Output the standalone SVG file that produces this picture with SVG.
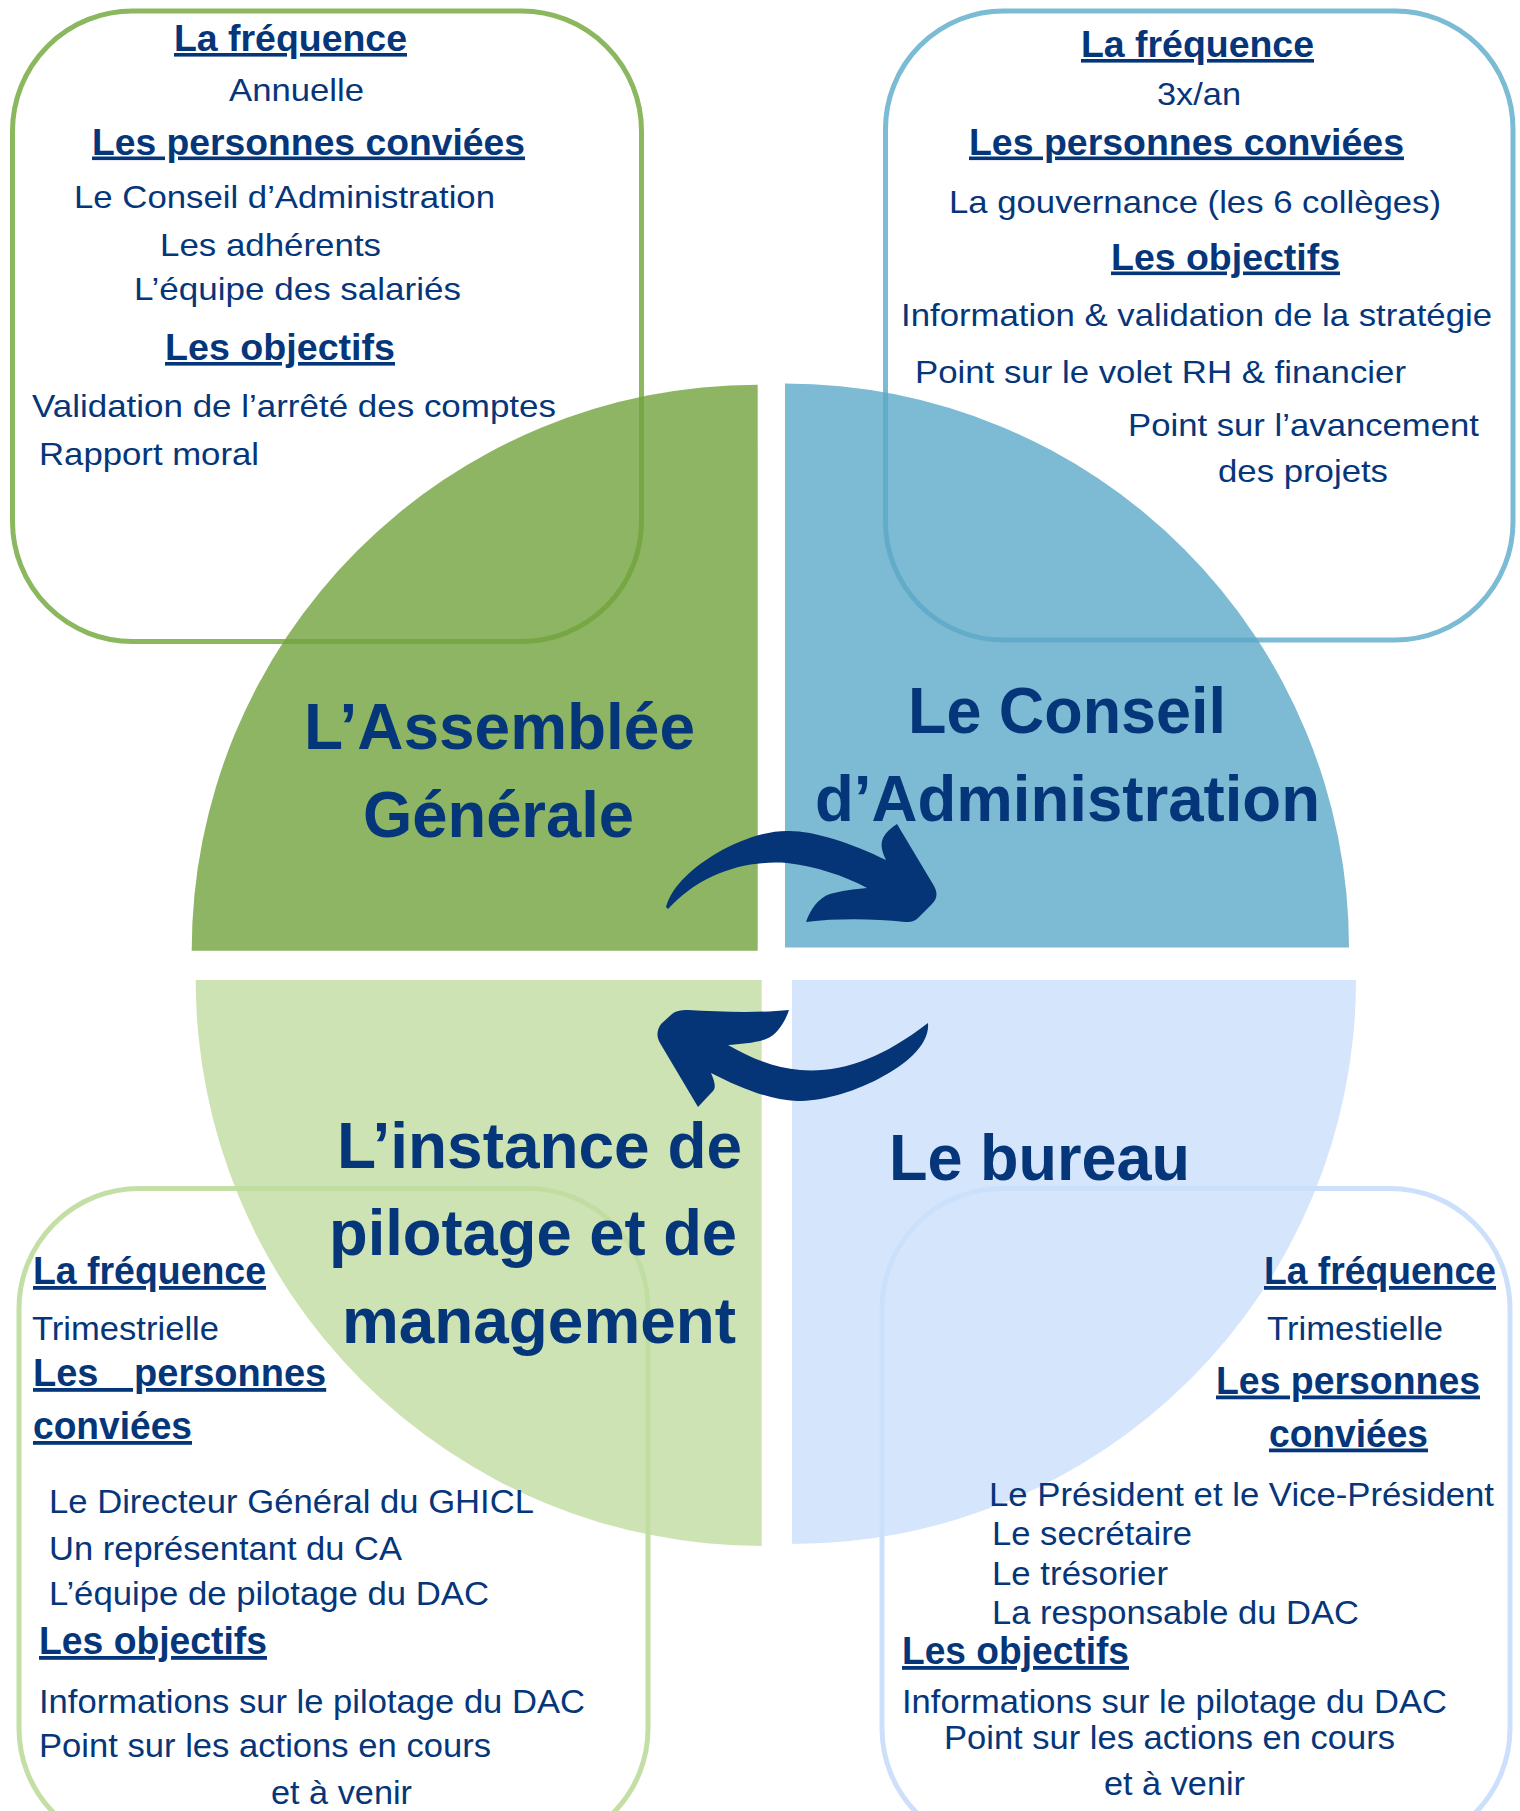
<svg xmlns="http://www.w3.org/2000/svg" width="1520" height="1811" viewBox="0 0 1520 1811">
<style>
text{font-family:"Liberation Sans",Arial,sans-serif;fill:#06367A}
.t{font-size:32px}
.tb{font-size:32.5px}
.h{font-size:36px;font-weight:bold;text-decoration:underline}
.hb{font-size:38px;font-weight:bold;text-decoration:underline}
.big{font-size:64px;font-weight:bold}
.box{fill:none;stroke-width:5}
.q{fill-opacity:0.8}
.arrow{fill:#053576}
</style>
<rect width="1520" height="1811" fill="#ffffff"/>

<g id="assemblee-generale">
<rect class="box" x="12.5" y="11" width="629" height="630.5" rx="120" stroke="#8BB85E"/>
<path class="q" fill="#70A23C" d="M757.7,950.7 L757.7,384.7 A566,566 0 0 0 191.7,950.7 Z"/>
<text class="big" x="304" y="749" textLength="391" lengthAdjust="spacingAndGlyphs">L’Assemblée</text>
<text class="big" x="363" y="837" textLength="271" lengthAdjust="spacingAndGlyphs">Générale</text>
<text class="h" x="174" y="51" textLength="233" lengthAdjust="spacingAndGlyphs">La fréquence</text>
<text class="t" x="229" y="101" textLength="135" lengthAdjust="spacingAndGlyphs">Annuelle</text>
<text class="h" x="92" y="154.5" textLength="433" lengthAdjust="spacingAndGlyphs">Les personnes conviées</text>
<text class="t" x="74" y="208" textLength="421" lengthAdjust="spacingAndGlyphs">Le Conseil d’Administration</text>
<text class="t" x="160" y="255.5" textLength="221" lengthAdjust="spacingAndGlyphs">Les adhérents</text>
<text class="t" x="134" y="300" textLength="327" lengthAdjust="spacingAndGlyphs">L’équipe des salariés</text>
<text class="h" x="165" y="360" textLength="230" lengthAdjust="spacingAndGlyphs">Les objectifs</text>
<text class="t" x="32" y="416.5" textLength="524" lengthAdjust="spacingAndGlyphs">Validation de l’arrêté des comptes</text>
<text class="t" x="39" y="465" textLength="220" lengthAdjust="spacingAndGlyphs">Rapport moral</text>
</g>

<g id="conseil-administration">
<rect class="box" x="885.5" y="11" width="627.5" height="629" rx="118" stroke="#7BBBD3"/>
<path class="q" fill="#5DA9C8" d="M785,947.5 L785,383.5 A564,564 0 0 1 1349,947.5 Z"/>
<text class="big" x="908" y="733" textLength="318" lengthAdjust="spacingAndGlyphs">Le Conseil</text>
<text class="big" x="815" y="820.5" textLength="505" lengthAdjust="spacingAndGlyphs">d’Administration</text>
<text class="h" x="1081" y="57" textLength="233" lengthAdjust="spacingAndGlyphs">La fréquence</text>
<text class="t" x="1157" y="105" textLength="84" lengthAdjust="spacingAndGlyphs">3x/an</text>
<text class="h" x="969" y="154.5" textLength="435" lengthAdjust="spacingAndGlyphs">Les personnes conviées</text>
<text class="t" x="949" y="212.5" textLength="492" lengthAdjust="spacingAndGlyphs">La gouvernance (les 6 collèges)</text>
<text class="h" x="1111" y="269.5" textLength="229" lengthAdjust="spacingAndGlyphs">Les objectifs</text>
<text class="t" x="901" y="325.5" textLength="591" lengthAdjust="spacingAndGlyphs">Information &amp; validation de la stratégie</text>
<text class="t" x="915" y="383" textLength="491" lengthAdjust="spacingAndGlyphs">Point sur le volet RH &amp; financier</text>
<text class="t" x="1128" y="435.5" textLength="351" lengthAdjust="spacingAndGlyphs">Point sur l’avancement</text>
<text class="t" x="1218" y="482" textLength="170" lengthAdjust="spacingAndGlyphs">des projets</text>
</g>

<g id="instance-pilotage">
<rect class="box" x="19" y="1188.5" width="629" height="660" rx="120" stroke="#C4DFA6"/>
<path class="q" fill="#C2DCA1" d="M761.7,980 L195.7,980 A566,566 0 0 0 761.7,1546 Z"/>
<text class="big" x="337" y="1168" textLength="405" lengthAdjust="spacingAndGlyphs">L’instance de</text>
<text class="big" x="329" y="1255" textLength="408" lengthAdjust="spacingAndGlyphs">pilotage et de</text>
<text class="big" x="342" y="1343" textLength="394" lengthAdjust="spacingAndGlyphs">management</text>
<text class="hb" x="33" y="1284" textLength="233" lengthAdjust="spacingAndGlyphs">La fréquence</text>
<text class="tb" x="32" y="1339.5" textLength="187" lengthAdjust="spacingAndGlyphs">Trimestrielle</text>
<text class="hb" x="33" y="1386" word-spacing="25">Les personnes</text>
<text class="hb" x="33" y="1439" textLength="159" lengthAdjust="spacingAndGlyphs">conviées</text>
<text class="tb" x="49" y="1512.5" textLength="485" lengthAdjust="spacingAndGlyphs">Le Directeur Général du GHICL</text>
<text class="tb" x="49" y="1560" textLength="353" lengthAdjust="spacingAndGlyphs">Un représentant du CA</text>
<text class="tb" x="49" y="1604.5" textLength="440" lengthAdjust="spacingAndGlyphs">L’équipe de pilotage du DAC</text>
<text class="hb" x="39" y="1654" textLength="228" lengthAdjust="spacingAndGlyphs">Les objectifs</text>
<text class="tb" x="39" y="1713" textLength="546" lengthAdjust="spacingAndGlyphs">Informations sur le pilotage du DAC</text>
<text class="tb" x="39" y="1757" textLength="452" lengthAdjust="spacingAndGlyphs">Point sur les actions en cours</text>
<text class="tb" x="271" y="1803.5" textLength="141" lengthAdjust="spacingAndGlyphs">et à venir</text>
</g>

<g id="bureau">
<rect class="box" x="882" y="1188.5" width="628" height="660" rx="120" stroke="#CCE0FB"/>
<path class="q" fill="#CBE0FB" d="M792,980 L1356,980 A564,564 0 0 1 792,1544 Z"/>
<text class="big" x="889" y="1180" textLength="301" lengthAdjust="spacingAndGlyphs">Le bureau</text>
<text class="hb" x="1264" y="1284" textLength="232" lengthAdjust="spacingAndGlyphs">La fréquence</text>
<text class="tb" x="1267" y="1339.5" textLength="176" lengthAdjust="spacingAndGlyphs">Trimestielle</text>
<text class="hb" x="1216" y="1393.5" textLength="264" lengthAdjust="spacingAndGlyphs">Les personnes</text>
<text class="hb" x="1269" y="1446.5" textLength="159" lengthAdjust="spacingAndGlyphs">conviées</text>
<text class="tb" x="989" y="1506" textLength="505" lengthAdjust="spacingAndGlyphs">Le Président et le Vice-Président</text>
<text class="tb" x="992" y="1545" textLength="200" lengthAdjust="spacingAndGlyphs">Le secrétaire</text>
<text class="tb" x="992" y="1585" textLength="176" lengthAdjust="spacingAndGlyphs">Le trésorier</text>
<text class="tb" x="992" y="1624" textLength="367" lengthAdjust="spacingAndGlyphs">La responsable du DAC</text>
<text class="hb" x="902" y="1664" textLength="227" lengthAdjust="spacingAndGlyphs">Les objectifs</text>
<text class="tb" x="902" y="1713" textLength="545" lengthAdjust="spacingAndGlyphs">Informations sur le pilotage du DAC</text>
<text class="tb" x="944" y="1748.5" textLength="451" lengthAdjust="spacingAndGlyphs">Point sur les actions en cours</text>
<text class="tb" x="1104" y="1795" textLength="141" lengthAdjust="spacingAndGlyphs">et à venir</text>
</g>

<g id="connectors">
<path class="arrow" d="M666,907 C672,885 695,866 717,853 C740,840 765,831 787,831 C810,830 850,842 886,860 C882,852 880,845 883,838 C886,832 891,828 897,824 L934,886 C938,893 937,899 932,904 L918,918 C914,922 910,922 905,922 C875,919 840,918 806,922 C810,910 818,898 830,894 C840,891 855,889 867,888 C845,876 815,866 787,863 C760,861 735,866 713,876 C695,884 680,896 668,909 Z"/>
<path class="arrow" d="M928,1023 C930,1045 905,1065 880,1078 C850,1094 820,1101 797,1101 C770,1100 740,1088 711,1073 C715,1082 716,1088 713,1091 L698,1107 L660,1043 C656,1036 657,1030 661,1024 L672,1014 C676,1011 680,1010 688,1010 C720,1012 760,1013 789,1010 C785,1022 777,1035 766,1039 C756,1043 740,1044 728,1045 C750,1058 775,1068 800,1070 C840,1073 880,1060 928,1023 Z"/>
</g>
</svg>
